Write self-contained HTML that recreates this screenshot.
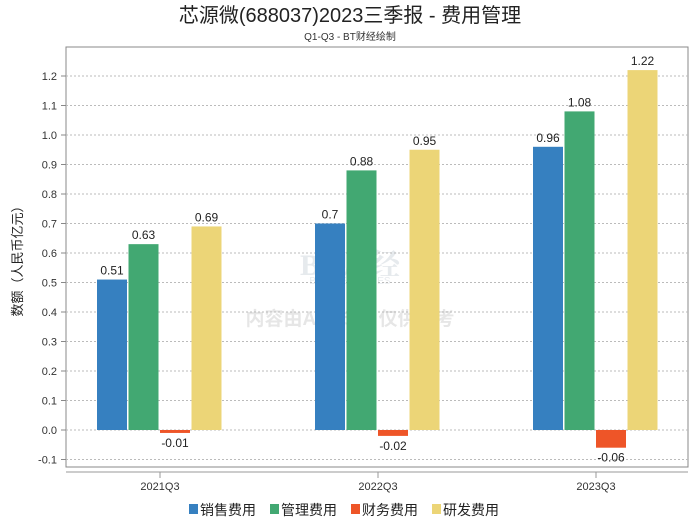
<!DOCTYPE html>
<html><head><meta charset="utf-8">
<style>
body{margin:0;background:#fff;font-family:"Liberation Sans","Noto Sans CJK SC",sans-serif;}
</style></head>
<body>
<svg id="chart" width="700" height="524" xmlns="http://www.w3.org/2000/svg" font-family="'Liberation Sans','Noto Sans CJK SC',sans-serif">
<rect width="700" height="524" fill="#fff"/>
<text x="350" y="22" text-anchor="middle" font-size="20" fill="#222">芯源微(688037)2023三季报 - 费用管理</text>
<text x="350" y="40" text-anchor="middle" font-size="10" fill="#333">Q1-Q3 - BT财经绘制</text>
<g opacity="0.2">
<text x="350" y="275" text-anchor="middle" font-size="30" font-weight="bold" fill="#8899aa" font-family="'Liberation Serif','Noto Serif CJK SC',serif">BT财经</text>
<text x="350" y="284" text-anchor="middle" font-size="10" fill="#8899aa">BUSINESSTIMES</text>
<text x="350" y="325" text-anchor="middle" font-size="19" font-weight="bold" fill="#888">内容由AI生成，仅供参考</text>
</g>
<rect x="66" y="47" width="622" height="420" fill="none" stroke="#888"/>
<line x1="66" y1="472" x2="688" y2="472" stroke="#999"/>
<text transform="translate(22,258) rotate(-90)" text-anchor="middle" font-size="13" fill="#222">数额（人民币亿元）</text>
<g id="grid"></g><g id="bars"></g><g id="xlab"></g>
<g font-size="14" fill="#222">
<g><rect x="189" y="504" width="9" height="10" fill="#3680c0"/><text x="200" y="515">销售费用</text></g>
<g><rect x="270" y="504" width="9" height="10" fill="#42a872"/><text x="281" y="515">管理费用</text></g>
<g><rect x="351" y="504" width="9" height="10" fill="#ee5528"/><text x="362" y="515">财务费用</text></g>
<g><rect x="432" y="504" width="9" height="10" fill="#ecd577"/><text x="443" y="515">研发费用</text></g>
</g>
</svg>
<script>
const categories=["2021Q3","2022Q3","2023Q3"];
const sales=[0.51,0.7,0.96];
const admin=[0.63,0.88,1.08];
const finance=[-0.01,-0.02,-0.06];
const rd=[0.69,0.95,1.22];
const yTicks=[-0.1,0,0.1,0.2,0.3,0.4,0.5,0.6,0.7,0.8,0.9,1.0,1.1,1.2];
const NS="http://www.w3.org/2000/svg";
function y(v){return 430-v*295;}
function xc(i){return 160+i*218;}
function mk(t,a,p){const e=document.createElementNS(NS,t);for(const k in a)e.setAttribute(k,a[k]);p.appendChild(e);return e;}
const grid=document.getElementById('grid');
yTicks.forEach(v=>{
 const l=mk('line',{x1:66,x2:688,y1:y(v),y2:y(v),stroke:'#bbb','stroke-dasharray':'2,2'},grid);
 
 
 mk('line',{x1:61,x2:66,y1:y(v),y2:y(v),stroke:'#888'},grid);
 const t=mk('text',{x:57,y:y(v)+4,'text-anchor':'end','font-size':'11',fill:'#333'},grid);
 
 
 t.textContent=v.toFixed(1);
});
const series=[[sales,'#3680c0','sales'],[admin,'#42a872','admin'],[finance,'#ee5528','finance'],[rd,'#ecd577','rd']];
const bars=document.getElementById('bars'),xl=document.getElementById('xlab');
categories.forEach((c,i)=>{
 series.forEach((s,j)=>{
  const v=s[0][i],x=xc(i)-63+j*31.5;
  const top=Math.min(y(v),y(0)),h=Math.abs(y(v)-y(0));
  const r=mk('rect',{x:x,y:top,width:30,height:h,fill:s[1]},bars);
  
  
  const t=mk('text',{x:x+15,y:v>=0?y(v)-5:y(v)+14,'text-anchor':'middle','font-size':'12',fill:'#222'},bars);
  
  
  t.textContent=String(v);
 });
 mk('line',{x1:xc(i),x2:xc(i),y1:472,y2:478,stroke:'#999'},xl);
 const t=mk('text',{x:xc(i),y:490,'text-anchor':'middle','font-size':'11',fill:'#333'},xl);
 
 
 t.textContent=c;
});
</script>
</body></html>
